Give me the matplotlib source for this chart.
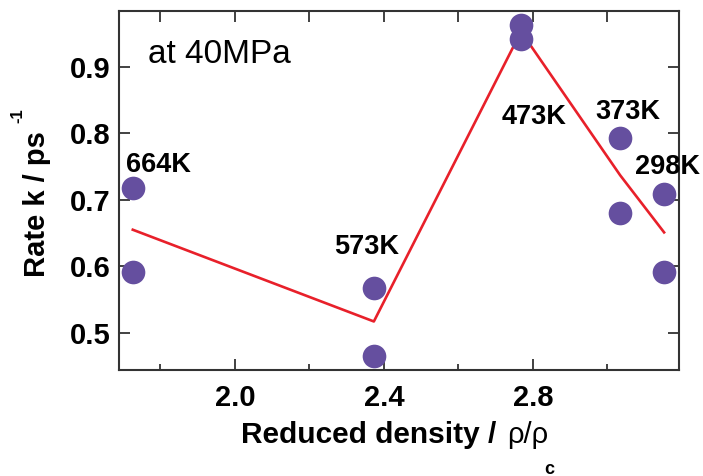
import matplotlib
matplotlib.use("Agg")
import matplotlib.pyplot as plt
from matplotlib.ticker import FixedLocator

plt.rcParams['font.family'] = ['Liberation Sans', 'DejaVu Sans']

# Data
temps = ["664K", "573K", "473K", "373K", "298K"]
density = [1.726, 2.373, 2.768, 3.034, 3.152]
rate_a = [0.718, 0.568, 0.963, 0.793, 0.709]
rate_b = [0.592, 0.465, 0.942, 0.680, 0.592]
line_rate = [0.655, 0.517, 0.953, 0.737, 0.651]
label_x = [1.796, 2.354, 2.803, 3.055, 3.162]
label_y = [0.753, 0.629, 0.825, 0.832, 0.750]

fig = plt.figure(figsize=(7.03, 4.76), dpi=100)
ax = fig.add_axes([119/703, 1-370/476, (679-119)/703, (370-11)/476])

ax.plot(density, line_rate, color='#e8202a', lw=1.9, zorder=2)
ax.scatter(density, rate_a, s=290, color='#654f9f', zorder=3, clip_on=False, linewidths=0)
ax.scatter(density, rate_b, s=290, color='#654f9f', zorder=3, clip_on=False, linewidths=0)

for t, x, y in zip(temps, label_x, label_y):
    kw = {}
    if t == "473K":
        kw['bbox'] = dict(facecolor='white', edgecolor='none', pad=1)
    ax.text(x, y, t, ha='center', va='center', fontsize=19.5, fontweight='bold',
            zorder=4, clip_on=False, **kw)

ax.text(1.766, 0.918, "at 40MPa", ha='left', va='center', fontsize=24)

ax.set_xlim(1.689, 3.192)
ax.set_ylim(0.444, 0.984)

ax.xaxis.set_major_locator(FixedLocator([2.0, 2.4, 2.8]))
ax.xaxis.set_minor_locator(FixedLocator([1.8, 2.2, 2.6, 3.0]))
ax.set_xticklabels(["2.0", "2.4", "2.8"])
ax.set_yticks([0.5, 0.6, 0.7, 0.8, 0.9])
ax.set_yticklabels(["0.5", "0.6", "0.7", "0.8", "0.9"])

ax.tick_params(axis='both', which='major', direction='in', length=8, width=1.3,
               labelsize=21, color='#333333', pad=6)
ax.tick_params(axis='x', which='major', pad=10)
ax.tick_params(axis='x', which='minor', direction='in', length=4.5, width=1.3,
               color='#333333', top=False)
ax.tick_params(axis='y', right=True)
ax.tick_params(axis='x', top=False)
for lab in ax.get_xticklabels() + ax.get_yticklabels():
    lab.set_fontweight('bold')

sec = ax.secondary_xaxis('top')
sec.set_xticks([1.8, 2.0, 2.2, 2.4, 2.6, 2.8, 3.0])
sec.tick_params(direction='in', length=8, width=1.3, color='#333333', labeltop=False)
sec.spines['top'].set_visible(False)

for sp in ax.spines.values():
    sp.set_linewidth(1.5)
    sp.set_color('#333333')

fig.text(37/703, 1-204/476, "Rate k / ps", rotation=90, ha='center', va='center',
         fontsize=21, fontweight='bold')
fig.text(18/703, 1-116/476, "-1", rotation=90, ha='center', va='center',
         fontsize=12, fontweight='bold')
fig.text(241/703, 1-435/476, "Reduced density /", ha='left', va='center',
         fontsize=21.5, fontweight='bold')
fig.text(507/703, 1-435/476, "ρ/ρ", ha='left', va='center', fontsize=21)
fig.text(549/703, 1-469/476, "c", ha='center', va='center', fontsize=13, fontweight='bold')

fig.savefig("out.png", dpi=100)
